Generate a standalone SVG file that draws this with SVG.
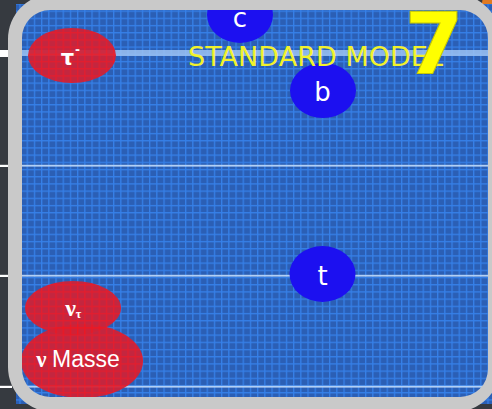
<svg xmlns="http://www.w3.org/2000/svg" width="492" height="409" viewBox="0 0 492 409">
  <defs>
    <pattern id="grid" width="7.2" height="7.2" patternUnits="userSpaceOnUse" x="5" y="3.3">
      <rect width="7.2" height="7.2" fill="#2b5fb5"/>
      <rect width="1.3" height="7.2" fill="#3680e8"/>
      <rect width="7.2" height="1.3" fill="#3680e8"/>
    </pattern>
    <pattern id="redgrid" width="7.2" height="7.2" patternUnits="userSpaceOnUse" x="5" y="3.3">
      <rect width="7.2" height="7.2" fill="#d02236"/>
      <rect width="1.3" height="7.2" fill="#f01620"/>
      <rect width="7.2" height="1.3" fill="#f01620"/>
    </pattern>
    <style>
      .red { fill: url(#redgrid); fill-opacity: 0.93; }
      .blue { fill: #1c10f0; }
      .lbl { fill: #ffffff; font-family: "DejaVu Sans", sans-serif; font-size: 26px; text-anchor: middle; }
      .greek { fill: #ffffff; font-family: "Liberation Serif", "DejaVu Serif", serif; font-weight: bold; }
      .hline { fill: #b2d0f6; }
      .tick { fill: #ffffff; }
    </style>
  </defs>

  <!-- outside background -->
  <rect x="0" y="0" width="492" height="409" fill="#363a40"/>
  <circle cx="500" cy="4" r="18" fill="#e07a22"/>
  <rect class="tick" x="0" y="50" width="12" height="7"/>
  <rect class="tick" x="0" y="164.8" width="12" height="2.2"/>
  <rect class="tick" x="0" y="274.8" width="12" height="2.2"/>
  <rect class="tick" x="0" y="385.8" width="12" height="2.2"/>

  <!-- blue gridded panel -->
  <rect x="16" y="4" width="478" height="400" fill="url(#grid)"/>
  <rect x="16" y="50" width="478" height="6" fill="#9cc2f2" opacity="0.85"/>
  <rect class="hline" x="16" y="164.8" width="478" height="1.8"/>
  <rect class="hline" x="16" y="274.8" width="478" height="1.8"/>
  <rect class="hline" x="16" y="385.8" width="478" height="1.8"/>

  <g id="connectors"/>

  <g id="node-c">
    <ellipse class="blue" cx="240" cy="15" rx="33" ry="28"/>
    <text class="lbl" x="240" y="27">c</text>
  </g>

  <g id="node-b">
    <ellipse class="blue" cx="323" cy="90.5" rx="33" ry="27.5"/>
    <text class="lbl" x="322.5" y="100.5">b</text>
  </g>

  <g id="node-t">
    <ellipse class="blue" cx="322.5" cy="274" rx="33" ry="28"/>
    <text class="lbl" x="322.5" y="285">t</text>
  </g>

  <g id="node-tau">
    <ellipse class="red" cx="72" cy="55.5" rx="44" ry="27.5"/>
    <text fill="#ffffff" font-family="'DejaVu Sans', sans-serif" font-weight="bold" font-size="21" x="67.5" y="65" text-anchor="middle">τ</text>
    <text fill="#ffffff" font-family="'DejaVu Sans', sans-serif" font-weight="bold" font-size="12" x="77.5" y="54" text-anchor="middle">-</text>
  </g>

  <g id="node-nutau">
    <ellipse class="red" cx="73" cy="308" rx="48" ry="27"/>
    <text class="greek" font-size="24" x="70.5" y="316" text-anchor="middle">ν</text>
    <text class="greek" font-size="12" x="78.5" y="318" text-anchor="middle">τ</text>
  </g>

  <g id="node-numasse">
    <ellipse class="red" cx="82" cy="361" rx="61" ry="37"/>
    <text class="greek" font-size="23" x="41.5" y="367" text-anchor="middle">ν</text>
    <text fill="#ffffff" font-family="'Liberation Sans', Arial, sans-serif" font-size="23" x="52" y="367">Masse</text>
  </g>

  <!-- frame ring on top -->
  <path fill="#c9c9c9" fill-rule="evenodd"
        d="M53,-6 H455 A45,45 0 0 1 500,39 V367 A45,45 0 0 1 455,412 H53 A45,45 0 0 1 8,367 V39 A45,45 0 0 1 53,-6 Z
           M50,10 H460 A28,28 0 0 1 488,38 V369 A28,28 0 0 1 460,397 H50 A28,28 0 0 1 22,369 V38 A28,28 0 0 1 50,10 Z"/>

  <g id="title">
    <text fill="#f2f22c" font-family="'DejaVu Sans', sans-serif" font-size="27" x="188" y="66" textLength="255" lengthAdjust="spacingAndGlyphs">STANDARD MODEL</text>
    <text fill="#ffff00" stroke="#c8c800" stroke-width="1" font-family="'DejaVu Sans', sans-serif" font-weight="bold" font-size="85" x="434" y="74" text-anchor="middle">7</text>
  </g>
</svg>
